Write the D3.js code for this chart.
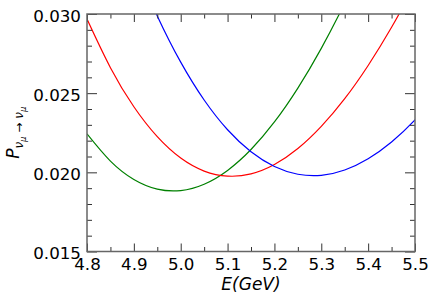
<!DOCTYPE html>
<html><head><meta charset="utf-8">
<script src="https://cdn.jsdelivr.net/npm/d3@7"></script>
<style>body{margin:0;background:#fff}svg{display:block}</style>
</head><body><div id="chart"></div>
<script>
const energies = [4.80,4.85,4.90,4.95,5.00,5.05,5.10,5.15,5.20,5.25,5.30,5.35,5.40,5.45,5.50];
const greenP = [0.02243,0.02071,0.01955,0.01894,0.01885,0.01925,0.02012,0.02144,0.02318,0.02532,0.02783,0.03068,0.0338,0.0372,0.0409];
const redP   = [0.02968,0.02661,0.02414,0.02225,0.02090,0.02008,0.01976,0.01990,0.02049,0.02150,0.02290,0.02465,0.02675,0.02916,0.03184];
const blueP  = [0.0373,0.03334,0.02988,0.02696,0.02457,0.02269,0.02130,0.02037,0.01988,0.01981,0.02015,0.02086,0.02192,0.02331,0.0250];
const blueE  = [4.85,4.90,4.95,5.00,5.05,5.10,5.15,5.20,5.25,5.30,5.35,5.40,5.45,5.50,5.55];
const xTicks = [4.8,4.9,5.0,5.1,5.2,5.3,5.4,5.5];
const yTicks = [0.015,0.020,0.025,0.030];
const xMinor = [4.85,4.95,5.05,5.15,5.25,5.35,5.45];
const yMinor = [0.016,0.017,0.018,0.019,0.021,0.022,0.023,0.024,0.026,0.027,0.028,0.029];

const W=436,H=300, L=87, R=415, T=14, B=251.5;
const svg=d3.select("#chart").append("svg").attr("width",W).attr("height",H);
const x=d3.scaleLinear().domain([4.8,5.5]).range([L,R]);
const y=d3.scaleLinear().domain([0.015,0.030]).range([B,T]);

svg.append("clipPath").attr("id","clip").append("rect")
  .attr("x",L).attr("y",T).attr("width",R-L).attr("height",B-T);

const line=d3.line().x(d=>x(d[0])).y(d=>y(d[1])).curve(d3.curveNatural);
const series=[
  {e:energies,p:greenP,c:"#008000"},
  {e:energies,p:redP,c:"#ff0000"},
  {e:blueE,p:blueP,c:"#0000ff"}
];
const g=svg.append("g").attr("clip-path","url(#clip)");
series.forEach(s=>{
  g.append("path").datum(s.e.map((e,i)=>[e,s.p[i]]))
   .attr("d",line).attr("fill","none").attr("stroke",s.c).attr("stroke-width",1.2);
});

const font="DejaVu Sans";
function axis(gen, tr, ticks, len, fmt){
  const a=svg.append("g").attr("transform",tr)
    .call(gen.tickValues(ticks).tickSizeInner(-len).tickSizeOuter(0).tickFormat(fmt||""));
  a.select(".domain").remove();
  a.selectAll(".tick line").attr("stroke","#333").attr("stroke-width",1);
  return a;
}
const fx=d3.format(".1f"), fy=d3.format(".3f");
const xb=axis(d3.axisBottom(x),`translate(0,${B})`,xTicks,8,fx);
xb.selectAll("text").attr("font-family",font).attr("font-size",16.7).attr("fill","#000")
  .attr("dy",null).attr("y",18.5).attr("dominant-baseline","auto");
axis(d3.axisBottom(x),`translate(0,${B})`,xMinor,4.5);
axis(d3.axisTop(x),`translate(0,${T})`,xTicks,8);
axis(d3.axisTop(x),`translate(0,${T})`,xMinor,4.5);
const yl=axis(d3.axisLeft(y),`translate(${L},0)`,yTicks,10,fy);
yl.selectAll("text").attr("font-family",font).attr("font-size",16.7).attr("fill","#000")
  .attr("dy",null).attr("x",-6).attr("y",7.3).attr("dominant-baseline","auto");
axis(d3.axisLeft(y),`translate(${L},0)`,yMinor,5);
axis(d3.axisRight(y),`translate(${R},0)`,yTicks,10);
axis(d3.axisRight(y),`translate(${R},0)`,yMinor,5);

svg.append("rect").attr("x",L).attr("y",T).attr("width",R-L).attr("height",B-T)
  .attr("fill","none").attr("stroke","#666").attr("stroke-width",1.5);

svg.append("text").attr("x",(L+R)/2).attr("y",290).attr("text-anchor","middle")
  .attr("font-family",font).attr("font-style","italic").attr("font-size",17).text("E(GeV)");

const yt=svg.append("text").attr("transform",`translate(18.5,${(T+B)/2}) rotate(-90)`)
  .attr("text-anchor","middle").attr("font-family",font).attr("font-size",17);
yt.append("tspan").attr("font-style","italic").text("P");
yt.append("tspan").attr("font-style","italic").attr("font-size",12).attr("dy",4).text("ν");
yt.append("tspan").attr("font-style","italic").attr("font-size",8.5).attr("dy",3).text("μ");
yt.append("tspan").attr("font-size",12).attr("dy",-3).text(" → ");
yt.append("tspan").attr("font-style","italic").attr("font-size",12).text("ν");
yt.append("tspan").attr("font-style","italic").attr("font-size",8.5).attr("dy",3).text("μ");
</script></body></html>
